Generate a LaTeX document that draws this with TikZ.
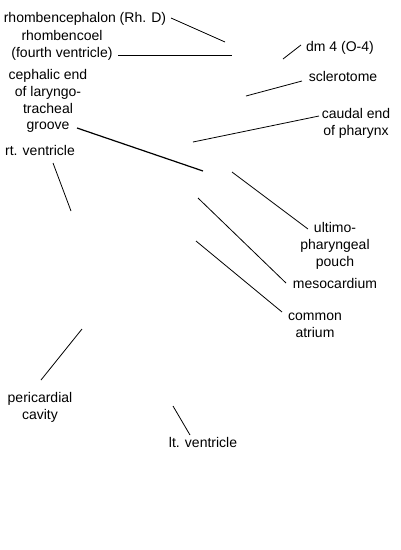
\documentclass[tikz,border=0pt]{standalone}
\usepackage{fontspec}
\setmainfont{Liberation Sans}
\begin{document}
\begin{tikzpicture}[x=1pt,y=-1pt,
  lbl/.style={inner sep=0pt,align=center,font=\fontsize{14}{16.8}\selectfont},
  lead/.style={line width=0.8pt,black}]
\useasboundingbox (0,0) rectangle (400,550);
% labels
\node[lbl] (rh) at (85,19) {rhombencephalon (Rh. D)};
\node[lbl] (rc) at (62,45) {rhombencoel\\(fourth ventricle)};
\node[lbl] (dm) at (340,48) {dm 4 (O-4)};
\node[lbl] (sc) at (343,76) {sclerotome};
\node[lbl] (ce) at (48,101) {cephalic end\\of laryngo-\\tracheal\\groove};
\node[lbl] (cp) at (356,123) {caudal end\\of pharynx};
\node[lbl] (rv) at (40,150) {rt. ventricle};
\node[lbl] (up) at (335,246) {ultimo-\\pharyngeal\\pouch};
\node[lbl] (ms) at (335,283) {mesocardium};
\node[lbl] (ca) at (315,325) {common\\atrium};
\node[lbl] (pc) at (40,407) {pericardial\\cavity};
\node[lbl] (lv) at (203,442) {lt. ventricle};
% leader end points
\coordinate (rhA) at (171,18);   \coordinate (rhB) at (225,42);
\coordinate (rcA) at (118,55);   \coordinate (rcB) at (232,55);
\coordinate (dmA) at (301,45);   \coordinate (dmB) at (283,59);
\coordinate (scA) at (302,81);   \coordinate (scB) at (246,96);
\coordinate (cpA) at (319,116);  \coordinate (cpB) at (193,142);
\coordinate (ceA) at (77,128);   \coordinate (ceB) at (203,171);
\coordinate (rvA) at (53,163);   \coordinate (rvB) at (71,211);
\coordinate (upA) at (308,229);  \coordinate (upB) at (232,172);
\coordinate (msA) at (286,283);  \coordinate (msB) at (198,198);
\coordinate (caA) at (282,312);  \coordinate (caB) at (196,241);
\coordinate (pcA) at (41,380);   \coordinate (pcB) at (82,329);
\coordinate (lvA) at (190,435);  \coordinate (lvB) at (173,406);
% leaders
\draw[lead] (rhA) -- (rhB);
\draw[lead] (rcA) -- (rcB);
\draw[lead] (dmA) -- (dmB);
\draw[lead] (scA) -- (scB);
\draw[lead] (cpA) -- (cpB);
\draw[lead,line width=1.2pt] (ceA) -- (ceB);
\draw[lead] (rvA) -- (rvB);
\draw[lead] (upA) -- (upB);
\draw[lead] (msA) -- (msB);
\draw[lead] (caA) -- (caB);
\draw[lead] (pcA) -- (pcB);
\draw[lead] (lvA) -- (lvB);
\end{tikzpicture}
\end{document}
